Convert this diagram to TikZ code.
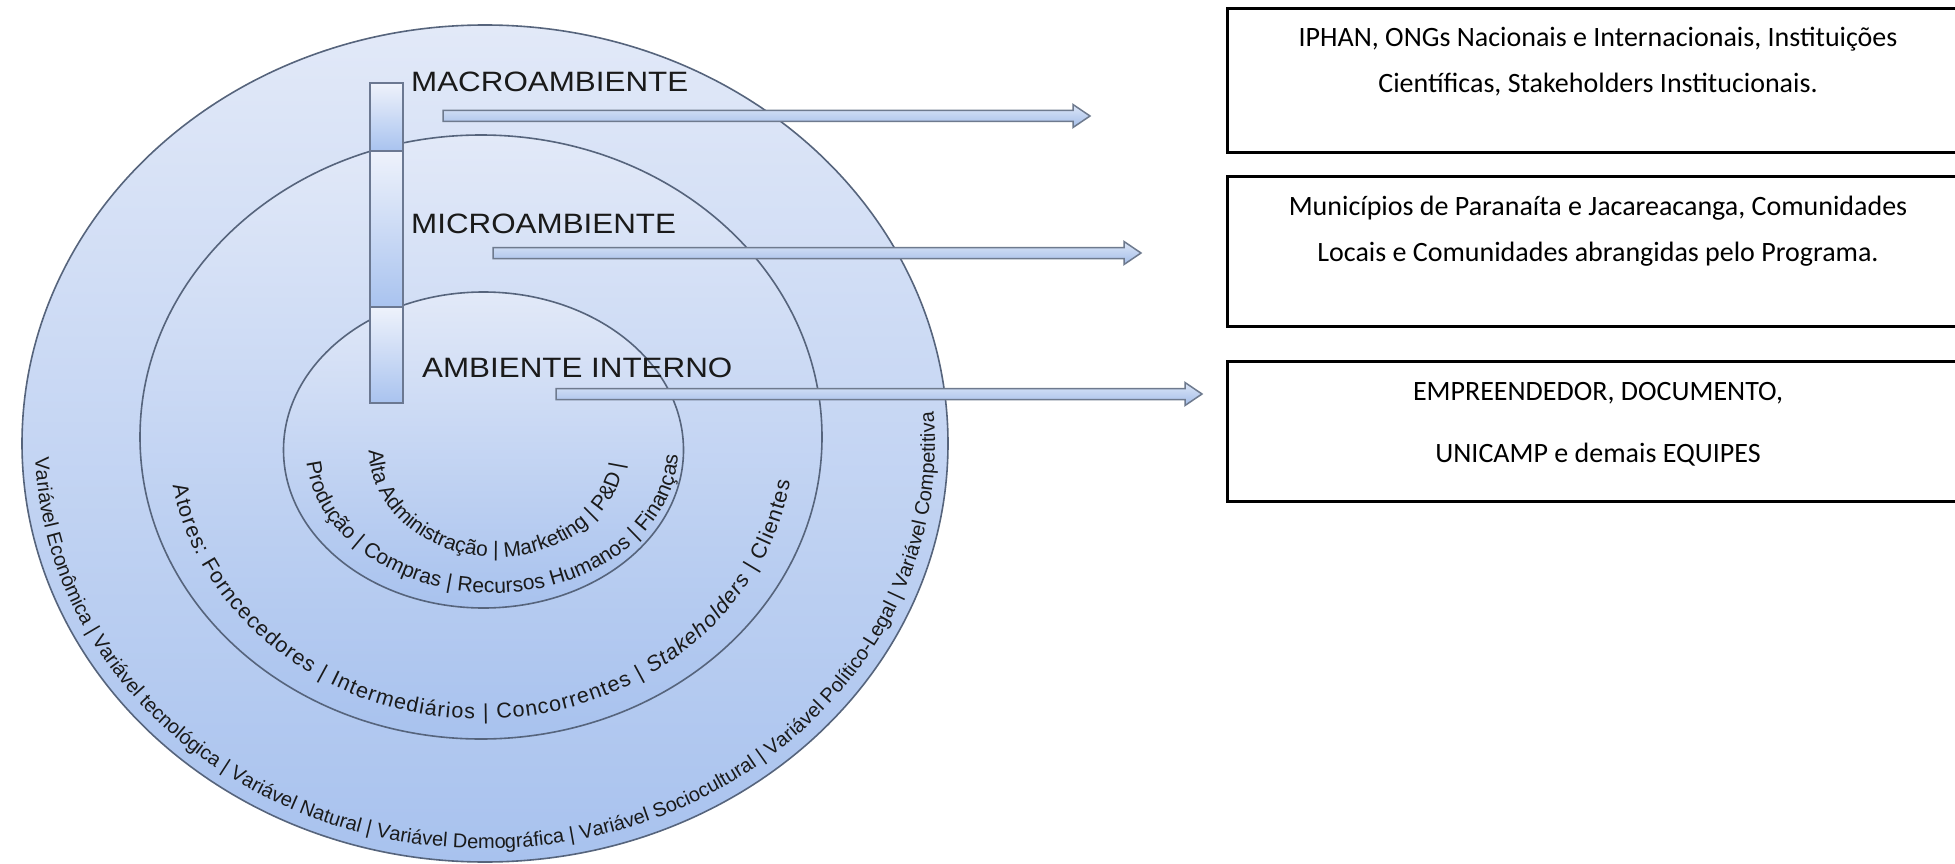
\documentclass[tikz,border=0pt]{standalone}
\usepackage{fontspec}
\setmainfont{Liberation Sans}
\newfontfamily\levelfont[FakeStretch=1.12]{Liberation Sans}
\newfontfamily\boxfont{Carlito}
\usetikzlibrary{decorations.text,calc}

\definecolor{ringtop}{HTML}{E2E9F8}
\definecolor{ringbot}{HTML}{A8C2EE}
\definecolor{ringline}{HTML}{56647C}
\definecolor{bartop}{HTML}{EEF2FB}
\definecolor{barbot}{HTML}{A9C3EF}
\definecolor{barline}{HTML}{6B7891}
\definecolor{arrtop}{HTML}{DCE6F8}
\definecolor{arrbot}{HTML}{A3BDE8}
\definecolor{arrline}{HTML}{6E7A8E}
\definecolor{inktext}{HTML}{1A1A1A}

% horizontal block arrow from #1 (tail) to #2 (tip)
\newcommand{\flatarrow}[2]{%
  \draw[arrowbody] ($(#1)+(0,-5.5)$) -- ($(#2)+(-17,-5.5)$) -- ($(#2)+(-17,-11.5)$) -- (#2)
    -- ($(#2)+(-17,11.5)$) -- ($(#2)+(-17,5.5)$) -- ($(#1)+(0,5.5)$) -- cycle;}

\tikzset{
  ring/.style={draw=ringline, line width=1.6pt, top color=ringtop, bottom color=ringbot},
  barseg/.style={draw=barline, line width=1.5pt, top color=bartop, bottom color=barbot},
  arrowbody/.style={draw=arrline, line width=1.5pt, top color=arrtop, bottom color=arrbot},
  level/.style={font=\levelfont\fontsize{28}{32}\selectfont, text=inktext, inner sep=0pt, anchor=base west},
  infobox/.style={draw=black, line width=3pt, minimum width=760pt, anchor=north west, inner sep=0pt},
  boxline/.style={font=\boxfont\fontsize{28}{34}\selectfont, text=black, inner sep=0pt, anchor=base},
  ringtext/.style={decorate, decoration={text along path, text align=fit to path,
      text color=inktext, text format delimiters={[}{]}, text={#1}}},
}

\begin{document}
\begin{tikzpicture}[x=1pt,y=-1pt]
\useasboundingbox (0,0) rectangle (1955,864);
\clip (0,0) rectangle (1955,864);
\fill[white] (0,0) rectangle (1955,864);

% nested environments
\draw[ring] (485,443.5) ellipse [x radius=463, y radius=418.5];
\draw[ring] (481,437) ellipse [x radius=341, y radius=302];
\draw[ring] (483.5,450) ellipse [x radius=200, y radius=158];

% texts following the lower arcs
{\fontsize{20}{24}\selectfont
\path[ringtext={Variável Econômica | Variável tecnológica | Variável Natural | Variável Demográfica | Variável Sociocultural | Variável Político-Legal | Variável Competitiva}]
  (485,443.5) ++(178:450 and 405) arc [start angle=178, end angle=-4, x radius=450, y radius=405];
}
{\fontsize{21.5}{25}\selectfont
\path[ringtext={Atores: Forncecedores | Intermediários | Concorrentes | [\itshape]Stakeholders[] | Clientes}]
  (481,437) ++(170:313 and 282) arc [start angle=170, end angle=9, x radius=313, y radius=282];
}
{\fontsize{21}{25}\selectfont
\path[ringtext={Produção | Compras | Recursos Humanos | Finanças}]
  (492,450) ++(175:186 and 143) arc [start angle=175, end angle=2, x radius=186, y radius=143];
\path[ringtext={Alta Administração | Marketing | P{\&}D |}]
  (497,450) ++(180:128 and 107) arc [start angle=180, end angle=8, x radius=128, y radius=107];
}

% vertical bar split by the ellipse borders
\draw[barseg] (370,83) rectangle (403,151);
\draw[barseg] (370,151) rectangle (403,307);
\draw[barseg] (370,307) rectangle (403,403);

% level labels
\node[level] (macro) at (411,92) {MACROAMBIENTE};
\node[level] (micro) at (411,233) {MICROAMBIENTE};
\node[level] (interno) at (422,377) {AMBIENTE INTERNO};

% boxes on the right
\node[infobox, minimum height=144pt] (boxMacro) at (1226,7) {};
\node[infobox, minimum height=150pt] (boxMicro) at (1226,175) {};
\node[infobox, minimum height=140pt] (boxInterno) at (1226,360) {};

\node[boxline] (macroA) at (1598,47) {IPHAN, ONGs Nacionais e Internacionais, Instituições};
\node[boxline] (macroB) at (1598,93) {Científicas, Stakeholders Institucionais.};
\node[boxline] (microA) at (1598,215) {Municípios de Paranaíta e Jacareacanga, Comunidades};
\node[boxline] (microB) at (1598,261) {Locais e Comunidades abrangidas pelo Programa.};
\node[boxline] (internoA) at (1598,400) {EMPREENDEDOR, DOCUMENTO,};
\node[boxline] (internoB) at (1598,462) {UNICAMP e demais EQUIPES};

% arrows from each level towards its box
\coordinate (macroS) at (443,116);
\coordinate (macroT) at (1090,116);
\coordinate (microS) at (493,253);
\coordinate (microT) at (1141,253);
\coordinate (internoS) at (556,394);
\coordinate (internoT) at (1202,394);
\flatarrow{macroS}{macroT}
\flatarrow{microS}{microT}
\flatarrow{internoS}{internoT}
\end{tikzpicture}
\end{document}
